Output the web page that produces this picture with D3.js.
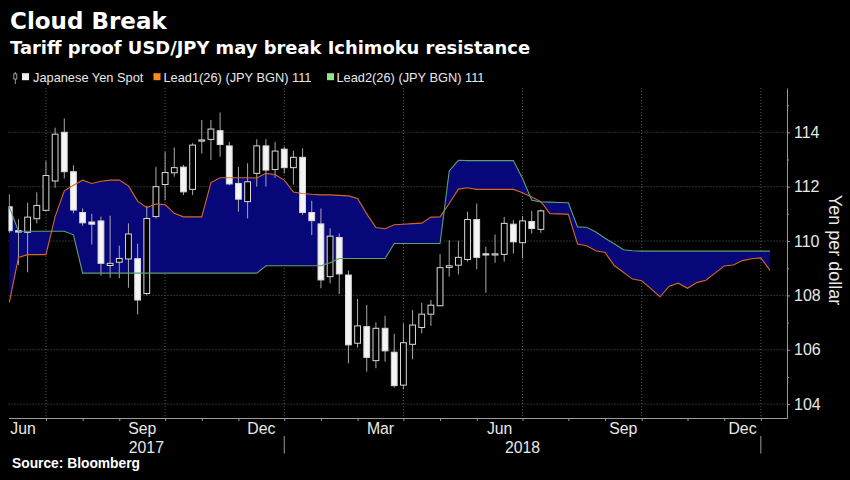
<!DOCTYPE html>
<html><head><meta charset="utf-8">
<script src="https://cdn.jsdelivr.net/npm/d3@7"></script>
<style>
html,body{margin:0;padding:0;background:#000;}
svg{display:block;}
</style></head>
<body>
<svg id="chart" width="850" height="480"></svg>
<script>
// ---- DATA (weekly candles, week index 0 = first bar) ----
const candleOpen  = [111.26,110.38,110.32,110.82,111.13,112.21,114.00,112.55,111.05,110.70,110.74,109.10,109.22,109.34,109.35,108.07,110.90,112.08,112.51,112.72,111.90,113.70,113.74,114.06,113.50,112.12,111.45,112.49,113.50,112.63,113.38,112.70,113.08,111.05,110.63,108.69,110.13,108.75,106.24,106.85,105.60,106.79,105.91,104.70,106.20,106.82,107.31,107.62,109.03,109.11,109.32,110.79,109.53,109.50,109.51,110.62,109.94,110.72,110.43];
const candleHigh  = [111.72,110.80,111.41,111.79,112.94,114.17,114.51,112.79,111.20,111.00,110.90,110.93,109.83,110.65,109.90,111.30,112.73,113.28,113.44,112.80,113.60,114.45,114.45,114.73,113.65,112.73,112.86,113.74,113.75,113.65,113.47,113.32,113.41,111.48,111.20,110.47,110.28,108.91,107.87,107.65,107.01,107.25,106.59,106.97,107.46,107.73,107.83,109.52,110.03,110.01,111.08,111.38,109.79,110.24,110.89,110.77,110.92,111.11,111.16];
const candleLow   = [110.30,109.12,108.85,110.65,111.10,111.96,112.30,111.02,110.56,109.87,108.73,108.65,108.63,108.28,107.30,108.00,110.83,111.50,112.37,111.69,111.69,113.22,112.98,113.10,112.05,111.08,110.83,112.00,112.00,112.33,112.49,112.08,110.96,110.22,108.26,108.44,108.05,105.50,106.08,105.20,105.32,105.56,104.61,104.54,105.65,106.60,106.88,107.60,108.69,108.77,109.24,108.96,108.10,109.20,109.24,109.54,109.36,110.28,110.30];
const candleClose = [110.38,110.33,110.88,111.31,112.41,113.93,112.55,111.14,110.67,110.62,109.18,109.18,109.36,110.26,107.83,110.83,112.00,112.52,112.70,111.81,113.53,113.72,114.12,113.55,112.10,111.54,112.18,113.50,112.61,113.31,112.70,113.08,111.05,110.75,108.57,110.18,108.79,106.18,106.88,105.72,106.79,105.96,104.68,106.26,106.91,107.31,107.64,109.02,109.09,109.40,110.79,109.40,109.49,109.53,110.65,109.97,110.74,110.46,111.11];

// Ichimoku leading spans (shifted 26 weeks ahead)
const lead1 = [107.74,109.40,109.50,109.50,109.50,110.90,111.85,112.05,112.24,112.12,
  112.20,112.24,112.24,112.03,111.47,111.23,111.36,111.34,111.02,110.89,
  110.89,110.89,112.15,112.33,112.33,112.33,112.33,112.32,112.49,112.45,
  112.24,111.80,111.75,111.72,111.70,111.70,111.68,111.66,111.57,111.00,
  110.50,110.45,110.60,110.62,110.64,110.66,110.88,110.89,111.38,111.91,
  111.96,111.90,111.90,111.90,111.90,111.90,111.78,111.62,111.45,111.01,
  111.00,110.98,109.89,109.83,109.64,109.58,109.10,108.85,108.60,108.54,
  108.25,107.95,108.34,108.45,108.26,108.47,108.56,108.82,109.08,109.12,
  109.28,109.35,109.38,108.92];
const lead2 = [111.26,110.36,110.36,110.36,110.36,110.36,110.36,110.23,108.82,108.82,
  108.82,108.82,108.82,108.82,108.82,108.82,108.82,108.82,108.82,108.82,
  108.82,108.82,108.82,108.82,108.82,108.82,108.82,108.82,109.09,109.09,
  109.09,109.09,109.09,109.09,109.09,109.20,109.36,109.36,109.36,109.36,
  109.36,109.36,109.91,109.91,109.91,109.91,109.91,109.91,112.58,112.97,
  112.96,112.96,112.96,112.96,112.96,112.96,112.30,111.50,111.44,111.43,
  111.42,111.41,110.52,110.51,110.33,110.10,109.90,109.68,109.64,109.63,
  109.63,109.63,109.63,109.63,109.63,109.63,109.63,109.63,109.63,109.63,
  109.63,109.63,109.63,109.63];

// axis definitions
const monthTickWeeks = [4,8,12,17,21,25,30,34,38,43,47,51,56,61,65,69,74,78,82];
const quarterGridWeeks = [4,17,30,43,56,69,82];
const monthLabels = ["Jun","Sep","Dec","Mar","Jun","Sep","Dec"];
const monthLabelFrom = [-1,12,25,38,51,65,78];
const monthLabelTo   = [4,17,30,43,56,69,82];
const yearLabels = ["2017","2018"];
const yearFrom = [-0.0873,30];
const yearTo   = [30,82];
const yearSeparatorWeeks = [30,82];
const yMajorTicks = [104,106,108,110,112,114];
const yMinorTicks = [105,107,109,111,113,115];

// ---- LAYOUT ----
const svg = d3.select("#chart");
const L = 8.5, R = 787, T = 88, B = 418;
const x = d3.scaleLinear().domain([-0.0873, 84.854]).range([L, R]);
const y = d3.scaleLinear().domain([103.49, 115.63]).range([B, T]);
const narrow = "'Liberation Sans Narrow','Arial Narrow',sans-serif";
const sans = "'Liberation Sans',Arial,sans-serif";

svg.append("rect").attr("width",850).attr("height",480).attr("fill","#000");

// titles
svg.append("text").attr("x",10).attr("y",29).text("Cloud Break")
  .attr("fill","#fff").attr("font-family","'DejaVu Sans',sans-serif").attr("font-weight","bold").attr("font-size",23);
svg.append("text").attr("x",10).attr("y",53.5).text("Tariff proof USD/JPY may break Ichimoku resistance")
  .attr("fill","#fff").attr("font-family","'DejaVu Sans',sans-serif").attr("font-weight","bold").attr("font-size",17.9);

// legend
const lg = svg.append("g");
lg.append("line").attr("x1",15.3).attr("x2",15.3).attr("y1",72).attr("y2",84).attr("stroke","#999");
lg.append("rect").attr("x",13.8).attr("y",74).attr("width",3).attr("height",5).attr("fill","#000").attr("stroke","#999");
const legendItems = [
  {sx:22, tx:33, color:"#f0f0f0", label:"Japanese Yen Spot"},
  {sx:153.5, tx:163.5, color:"#ff8a1c", label:"Lead1(26) (JPY BGN) 111"},
  {sx:327, tx:336.5, color:"#8fe68f", label:"Lead2(26) (JPY BGN) 111"}
];
legendItems.forEach(d=>{
  lg.append("rect").attr("x",d.sx).attr("y",73.2).attr("width",7).attr("height",7).attr("fill",d.color);
  lg.append("text").attr("x",d.tx).attr("y",81.5).text(d.label).attr("fill","#e8e8e8")
    .attr("font-family",sans).attr("font-size",12.8);
});

// clip
svg.append("defs").append("clipPath").attr("id","plotclip")
  .append("rect").attr("x",L).attr("y",T).attr("width",R-L).attr("height",B-T);

// grid
const grid = svg.append("g");
grid.selectAll(".hg").data(yMajorTicks).enter().append("line")
  .attr("x1",L).attr("x2",R).attr("y1",d=>y(d)).attr("y2",d=>y(d))
  .attr("stroke","#5a5a5a").attr("stroke-dasharray","1,2");
grid.selectAll(".vg").data(quarterGridWeeks).enter().append("line")
  .attr("x1",d=>x(d)).attr("x2",d=>x(d)).attr("y1",T).attr("y2",B)
  .attr("stroke","#5a5a5a").attr("stroke-dasharray","1,2");

const plot = svg.append("g").attr("clip-path","url(#plotclip)");

// cloud
const cloud = lead1.map((v,i)=>({k:i, a:v, b:lead2[i]}));
plot.append("path").datum(cloud)
  .attr("d", d3.area().x(d=>x(d.k)).y0(d=>y(d.a)).y1(d=>y(d.b)))
  .attr("fill","#07077a");

// candles
const candles = candleOpen.map((o,i)=>({k:i,o:o,h:candleHigh[i],l:candleLow[i],c:candleClose[i]}));
const cg = plot.append("g");
cg.selectAll(".wick").data(candles).enter().append("line")
  .attr("x1",d=>x(d.k)).attr("x2",d=>x(d.k))
  .attr("y1",d=>y(d.h)).attr("y2",d=>y(d.l))
  .attr("stroke","#a8a8a8").attr("stroke-width",1);
const bw = 5.8;
cg.selectAll(".body").data(candles).enter().append("rect")
  .attr("x",d=>x(d.k)-bw/2).attr("width",bw)
  .attr("y",d=>y(Math.max(d.o,d.c)))
  .attr("height",d=>Math.max(1.2, y(Math.min(d.o,d.c))-y(Math.max(d.o,d.c))))
  .attr("fill",d=>d.c<d.o?"#f4f4f4":"#000")
  .attr("stroke","#d8d8d8").attr("stroke-width",1);

// lead lines
plot.append("path").datum(cloud)
  .attr("d", d3.line().x(d=>x(d.k)).y(d=>y(d.a)))
  .attr("fill","none").attr("stroke","#d2691e").attr("stroke-width",1.1);
plot.append("path").datum(cloud)
  .attr("d", d3.line().x(d=>x(d.k)).y(d=>y(d.b)))
  .attr("fill","none").attr("stroke","#5f9e72").attr("stroke-width",1.1);

// x axis
const xAxis = svg.append("g").attr("transform",`translate(0,${B})`)
  .call(d3.axisBottom(x).tickValues(monthTickWeeks).tickSize(3).tickSizeOuter(0).tickFormat(""));
xAxis.select(".domain").attr("stroke","#9a9a9a");
xAxis.selectAll(".tick line").attr("stroke","#9a9a9a");

svg.selectAll(".mlab").data(monthLabels).enter().append("text")
  .attr("x",(d,i)=>(x(monthLabelFrom[i])+x(monthLabelTo[i]))/2).attr("y",434)
  .attr("text-anchor","middle").text(d=>d)
  .attr("fill","#e8e8e8").attr("font-family",narrow).attr("font-size",15.8);
svg.selectAll(".ylab").data(yearLabels).enter().append("text")
  .attr("x",(d,i)=>(x(yearFrom[i])+x(yearTo[i]))/2).attr("y",452.5)
  .attr("text-anchor","middle").text(d=>d)
  .attr("fill","#e8e8e8").attr("font-family",narrow).attr("font-size",15.8);
svg.selectAll(".ysep").data(yearSeparatorWeeks).enter().append("line")
  .attr("x1",d=>x(d)).attr("x2",d=>x(d)).attr("y1",436).attr("y2",453.5)
  .attr("stroke","#9a9a9a");

// y axis
const yAxis = svg.append("g").attr("transform",`translate(${R},0)`)
  .call(d3.axisRight(y).tickValues(yMajorTicks).tickSize(3).tickSizeOuter(0).tickPadding(4));
yAxis.select(".domain").attr("stroke","#9a9a9a");
yAxis.selectAll(".tick line").attr("stroke","#9a9a9a");
yAxis.selectAll(".tick text").attr("fill","#e8e8e8").attr("font-family",narrow).attr("font-size",16);
const yMinor = svg.append("g").attr("transform",`translate(${R},0)`)
  .call(d3.axisRight(y).tickValues(yMinorTicks).tickSize(2).tickSizeOuter(0).tickFormat(""));
yMinor.select(".domain").remove();
yMinor.selectAll(".tick line").attr("stroke","#9a9a9a");

svg.append("text").attr("transform","translate(829,250) rotate(90)")
  .attr("text-anchor","middle").text("Yen per dollar")
  .attr("fill","#e8e8e8").attr("font-family",sans).attr("font-size",18);

// source
svg.append("text").attr("x",12).attr("y",468).text("Source: Bloomberg")
  .attr("fill","#fff").attr("font-family",sans).attr("font-weight","bold").attr("font-size",13.8);
</script>
</body></html>
